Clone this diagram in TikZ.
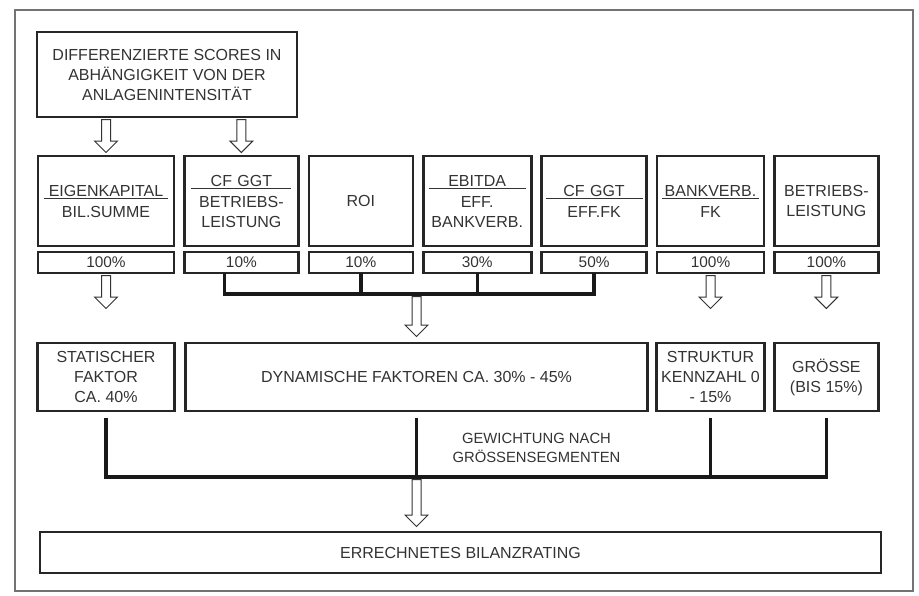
\documentclass[tikz,border=0pt]{standalone}
\usepackage{fontspec}
\setmainfont{Liberation Sans}
\usetikzlibrary{positioning,shapes.arrows,calc}
\tikzset{
  % thin frame round the whole figure
  rahmen/.style = {draw=black!55, line width=0.7pt},
  % generic text box
  tbox/.style   = {rectangle, draw=black!85, line width=1.3pt, outer sep=0pt,
                   align=center, inner sep=0pt, text=black!80,
                   font=\fontsize{8}{10}\selectfont},
  % key figure box
  kbox/.style   = {tbox, minimum height=45pt},
  % weight box under a key figure
  pct/.style    = {tbox, minimum height=10.5pt, font=\fontsize{7.7}{9}\selectfont},
  % factor box
  fbox/.style   = {tbox, minimum height=34pt},
  % hollow block arrow
  harrow/.style = {single arrow, draw=black!80, fill=white, line width=0.5pt,
                   minimum width=11pt, single arrow head extend=3.5pt,
                   minimum height=16.5pt, inner xsep=0pt, inner ysep=2pt,
                   rotate=-90, anchor=tail},
  % bracket lines
  brk/.style    = {line width=1.7pt, black!90},
}
% ratio with a rule between numerator and denominator
\newcommand{\quot}[2]{#1\\[-8.5pt]\rule{\linewidth}{0.55pt}\\[-1pt]#2}

\begin{document}
\begin{tikzpicture}[x=0.5pt, y=-0.5pt]
  \useasboundingbox (0,0) rectangle (919,595);
  \draw[rahmen] (15,10) rectangle (913,591);

  % --- top: scores ---
  \node[tbox, minimum width=130pt, minimum height=42.5pt] (scores) at (167,74.5)
       {DIFFERENZIERTE SCORES IN\\ABHÄNGIGKEIT VON DER\\ANLAGENINTENSITÄT};

  % --- key figures ---
  \node[kbox, minimum width=68pt, text width=62pt] (k1) at (106,201)
       {\quot{EIGENKAPITAL}{BIL.SUMME}};
  \node[kbox, minimum width=57pt, text width=50pt, right=5.2pt of k1] (k2)
       {\quot{CF GGT}{BETRIEBS-\\LEISTUNG}};
  \node[kbox, minimum width=52pt, text width=48pt, right=5.2pt of k2] (k3) {ROI};
  \node[kbox, minimum width=54pt, text width=48.5pt, right=5.2pt of k3] (k4)
       {\quot{EBITDA}{EFF.\\BANKVERB.}};
  \node[kbox, minimum width=52.5pt, text width=48.5pt, right=5.2pt of k4] (k5)
       {\quot{CF GGT}{EFF.FK}};
  \node[kbox, minimum width=53.5pt, text width=48.5pt, right=5.2pt of k5] (k6)
       {\quot{BANKVERB.}{FK}};
  \node[kbox, minimum width=52pt, text width=48pt, right=5.2pt of k6] (k7)
       {BETRIEBS-\\LEISTUNG};

  % --- weights ---
  \node[pct, minimum width=68pt, below=3pt of k1] (p1) {100\%};
  \node[pct, minimum width=57pt, below=3pt of k2] (p2) {10\%};
  \node[pct, minimum width=52pt, below=3pt of k3] (p3) {10\%};
  \node[pct, minimum width=54pt, below=3pt of k4] (p4) {30\%};
  \node[pct, minimum width=52.5pt, below=3pt of k5] (p5) {50\%};
  \node[pct, minimum width=53.5pt, below=3pt of k6] (p6) {100\%};
  \node[pct, minimum width=52pt, below=3pt of k7] (p7) {100\%};

  % --- factors ---
  \node[fbox, minimum width=68.5pt, below=35pt of p1] (stat)
       {STATISCHER\\FAKTOR\\CA. 40\%};
  \node[fbox, minimum width=231pt, right=5.5pt of stat] (dyn)
       {DYNAMISCHE FAKTOREN CA. 30\% - 45\%};
  \node[fbox, minimum width=54pt, below=35pt of p6] (strk)
       {STRUKTUR\\KENNZAHL 0\\- 15\%};
  \node[fbox, minimum width=52pt, below=35pt of p7] (gr)
       {GRÖSSE\\(BIS 15\%)};

  % --- result ---
  \node[tbox, line width=1pt, minimum width=420.5pt, minimum height=20.5pt] (rating)
       at (460.5,552.5) {ERRECHNETES BILANZRATING};

  % bracket over the dynamic key figures
  \coordinate (jt) at ($(p2.south)+(-17,21)$);
  \draw[brk] (p2.south -| jt) -- (jt) -| (p5.south);
  \foreach \n in {3,4}
    \draw[brk] (p\n.south) -- (p\n.south |- jt);

  % bracket weighting the factors
  \coordinate (jb) at ($(dyn.south)+(0,66)$);
  \draw[brk] ([yshift=-3.5pt]stat.south) |- (gr.south |- jb) -- ([yshift=-3.5pt]gr.south);
  \draw[brk] ([yshift=-3.5pt]dyn.south) -- (jb);
  \draw[brk] ([yshift=-3.5pt]strk.south) -- (strk.south |- jb);
  \node[font=\fontsize{7.4}{9.4}\selectfont, text=black!80, align=center] (gew)
       at ($(jb)+(120,-29)$) {GEWICHTUNG NACH\\GRÖSSENSEGMENTEN};

  % hollow arrows
  \node[harrow] (a1) at ($(scores.south -| k1)+(0,2)$) {};
  \node[harrow] (a2) at ($(scores.south -| k2)+(0,2)$) {};
  \node[harrow] (a3) at ($(p1.south)+(0,2)$) {};
  \node[harrow] (a6) at ($(p6.south)+(0,2)$) {};
  \node[harrow] (a7) at ($(p7.south)+(0,2)$) {};
  \node[harrow, minimum height=20pt] (a4) at ($(jt -| dyn)+(0,2)$) {};
  \node[harrow, minimum height=23.5pt] (a5) at ($(jb)+(0,2)$) {};

\end{tikzpicture}
\end{document}
